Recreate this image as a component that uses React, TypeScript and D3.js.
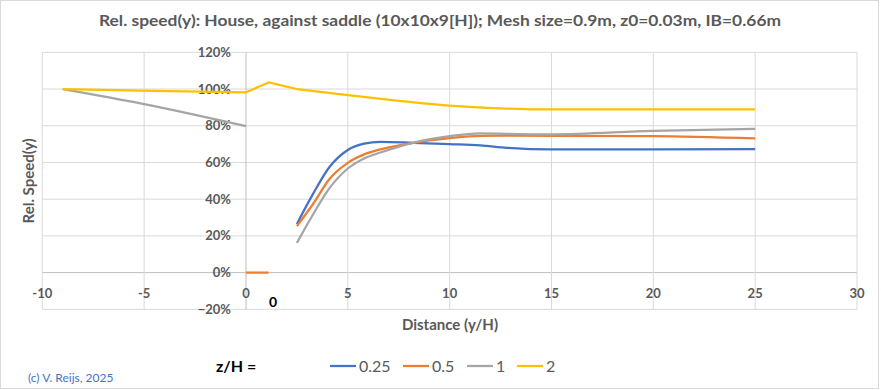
import React from "react";
import * as d3 from "d3";

const W = 881;
const H = 390;

const titleText = "Rel. speed(y): House, against saddle (10x10x9[H]); Mesh size=0.9m, z0=0.03m, IB=0.66m";
const xTicks = [-10, -5, 0, 5, 10, 15, 20, 25, 30];
const yTicks = [-0.2, 0, 0.2, 0.4, 0.6, 0.8, 1.0, 1.2];

// right-hand segment x positions (y/H)
const xsRight = [2.5, 3.3, 4.1, 5, 5.8, 6.6, 8.2, 10, 11.5, 12.8, 15, 20, 25];
const blueRight = [0.265, 0.43, 0.575, 0.668, 0.702, 0.712, 0.707, 0.70, 0.693, 0.68, 0.671, 0.671, 0.673];
const orangeRight = [0.253, 0.375, 0.51, 0.598, 0.644, 0.671, 0.707, 0.732, 0.745, 0.746, 0.745, 0.744, 0.731];
const grayRight = [0.162, 0.318, 0.46, 0.567, 0.622, 0.654, 0.707, 0.743, 0.758, 0.756, 0.753, 0.772, 0.783];

const orangeLeftX = [0, 1.11];
const orangeLeft = [0, 0];
const grayLeftX = [-9, -5, 0];
const grayLeft = [1.0, 0.918, 0.798];
const yellowLeftX = [-9, -4.5, 0, 1.11, 2.5];
const yellowLeft = [1.0, 0.99, 0.982, 1.036, 1.0];
const yellowRightX = [2.5, 5, 7.5, 10, 12.5, 15, 20, 25];
const yellowRight = [1.0, 0.967, 0.936, 0.91, 0.895, 0.889, 0.889, 0.889];

const legendLabels = ["0.25", "0.5", "1", "2"];
const colors = ["#4472C4", "#ED7D31", "#A5A5A5", "#FFC000"];

const font = "Lato, 'Open Sans', sans-serif";
const textGray = "#595959";

type Seg = { xs: number[]; ys: number[]; color: string; smooth: boolean };

export default function App() {
  const x = d3.scaleLinear().domain([-10, 30]).range([42.3, 857]);
  const y = d3.scaleLinear().domain([-0.2, 1.2]).range([309.3, 52.3]);

  const smoothLine = d3
    .line<[number, number]>()
    .x((d) => x(d[0]))
    .y((d) => y(d[1]))
    .curve(d3.curveMonotoneX);
  const straightLine = d3
    .line<[number, number]>()
    .x((d) => x(d[0]))
    .y((d) => y(d[1]));

  const segs: Seg[] = [
    { xs: xsRight, ys: blueRight, color: colors[0], smooth: true },
    { xs: orangeLeftX, ys: orangeLeft, color: colors[1], smooth: false },
    { xs: xsRight, ys: orangeRight, color: colors[1], smooth: true },
    { xs: grayLeftX, ys: grayLeft, color: colors[2], smooth: true },
    { xs: xsRight, ys: grayRight, color: colors[2], smooth: true },
    { xs: yellowLeftX, ys: yellowLeft, color: colors[3], smooth: false },
    { xs: yellowRightX, ys: yellowRight, color: colors[3], smooth: true },
  ];

  const fmtPct = d3.format(".0%");
  const legendX = [330, 403, 467, 517];

  return (
    <svg
      width={W}
      height={H}
      style={{ position: "absolute", left: 0, top: 0, background: "#fff" }}
      fontFamily={font}
    >
      <rect x={0.5} y={0.5} width={878} height={388} fill="#fff" stroke="#D9D9D9" />
      <text
        x={440}
        y={26}
        textAnchor="middle"
        fontSize={16}
        fontWeight="bold"
        fill={textGray}
        textLength={682}
        lengthAdjust="spacingAndGlyphs"
      >
        {titleText}
      </text>

      {/* grid */}
      {yTicks.map((t) => (
        <line
          key={"gy" + t}
          x1={x(-10)}
          x2={x(30)}
          y1={y(t)}
          y2={y(t)}
          stroke={Math.abs(t) < 1e-9 ? "#BFBFBF" : "#D9D9D9"}
          strokeWidth={1}
        />
      ))}
      {xTicks.map((t) => (
        <line
          key={"gx" + t}
          x1={x(t)}
          x2={x(t)}
          y1={y(1.2)}
          y2={y(-0.2)}
          stroke={t === 0 ? "#BFBFBF" : "#D9D9D9"}
          strokeWidth={1}
        />
      ))}

      {/* y tick labels */}
      {yTicks.map((t) => (
        <text
          key={"ty" + t}
          x={x(0) - 15}
          y={y(t)}
          dy="0.35em"
          textAnchor="end"
          fontSize={13}
          fontWeight="bold"
          fill={textGray}
        >
          {fmtPct(t)}
        </text>
      ))}
      {/* x tick labels */}
      {xTicks.map((t) => (
        <text
          key={"tx" + t}
          x={x(t)}
          y={293}
          dy="0.35em"
          textAnchor="middle"
          fontSize={13}
          fontWeight="bold"
          fill={textGray}
        >
          {t}
        </text>
      ))}

      {/* series */}
      {segs.map((s, i) => {
        const pts = s.xs.map((v, j) => [v, s.ys[j]] as [number, number]);
        const d = (s.smooth ? smoothLine(pts) : straightLine(pts)) || "";
        return (
          <path
            key={"s" + i}
            d={d}
            fill="none"
            stroke={s.color}
            strokeWidth={2.25}
            strokeLinejoin="round"
          />
        );
      })}

      <text x={273} y={302} dy="0.35em" textAnchor="middle" fontSize={14} fontWeight="bold" fill="#000">
        0
      </text>

      {/* axis titles */}
      <text
        x={450}
        y={325}
        dy="0.35em"
        textAnchor="middle"
        fontSize={15}
        fontWeight="bold"
        fill={textGray}
      >
        Distance (y/H)
      </text>
      <text
        transform={`translate(29,181) rotate(-90)`}
        dy="0.35em"
        textAnchor="middle"
        fontSize={15}
        fontWeight="bold"
        fill={textGray}
      >
        Rel. Speed(y)
      </text>

      {/* legend */}
      <text x={216} y={366} dy="0.35em" fontSize={16} fontWeight="bold" fill="#000">
        z/H =
      </text>
      {legendLabels.map((l, i) => (
        <g key={"lg" + i}>
          <line
            x1={legendX[i]}
            x2={legendX[i] + 26}
            y1={366}
            y2={366}
            stroke={colors[i]}
            strokeWidth={2.25}
          />
          <text x={legendX[i] + 29} y={366} dy="0.35em" fontSize={16} fill={textGray}>
            {l}
          </text>
        </g>
      ))}

      <text x={28} y={378} dy="0.35em" fontSize={12} fill="#4472C4">
        (c) V. Reijs, 2025
      </text>
    </svg>
  );
}
